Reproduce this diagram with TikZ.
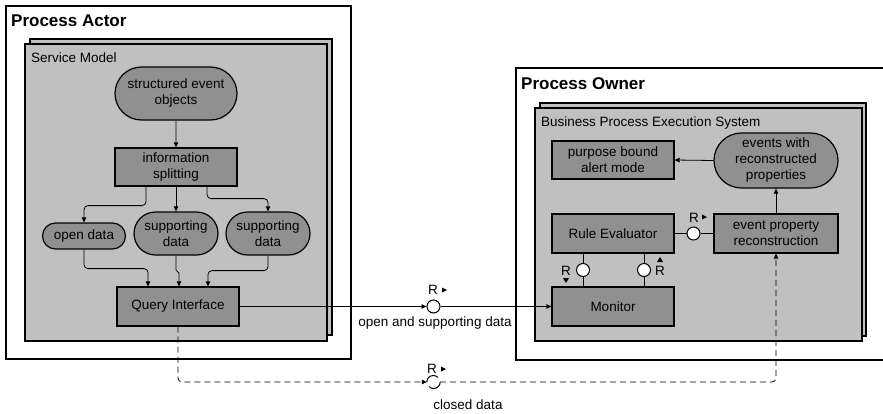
\documentclass[tikz,border=0pt]{standalone}
\usepackage{fontspec}
\setmainfont{Liberation Sans}
\usetikzlibrary{shapes.misc,arrows.meta}
\definecolor{contfill}{RGB}{192,192,192}
\definecolor{nodefill}{RGB}{144,144,144}
\begin{document}
\begin{tikzpicture}[x=1pt,y=-1pt,
  font=\fontsize{13.5}{16}\selectfont,
  outerbox/.style={draw=black,line width=1.4pt,fill=white},
  contbox/.style={draw=black,line width=1.4pt,fill=contfill},
  titletext/.style={anchor=base west,inner sep=0pt,font=\fontsize{17}{20}\selectfont\bfseries},
  conttext/.style={anchor=base west,inner sep=0pt},
  rectnode/.style={draw=black,line width=1.2pt,fill=nodefill,rectangle,align=center,inner sep=0pt},
  roundnode/.style={draw=black,line width=1.2pt,fill=nodefill,rounded rectangle,align=center,inner sep=0pt},
  conn/.style={line width=0.8pt,-{Triangle[length=5pt,width=4.5pt]},rounded corners=4pt},
  plainconn/.style={line width=0.8pt},
  ball/.style={circle,draw=black,line width=1pt,fill=white,minimum size=13pt,inner sep=0pt},
  rlabel/.style={anchor=base,inner sep=0pt},
  dashconn/.style={dash pattern=on 6pt off 4pt}
]
\useasboundingbox (0,0) rectangle (883,413);
\clip (0,0) rectangle (883,413);
\fill[white] (0,0) rectangle (883,413);

% ---------- Process Actor ----------
\draw[outerbox] (6,6) rectangle (351,359);
\node[titletext] (pa) at (11,26) {Process Actor};
\draw[contbox] (30,39) rectangle (332,335);
\draw[contbox] (25,44) rectangle (327,341);
\node[conttext] (sm) at (31,62) {Service Model};

\node[roundnode,minimum width=122pt,minimum height=53pt] (seo) at (176,93.5) {structured event\\objects};
\node[rectnode,minimum width=122pt,minimum height=38pt] (is) at (176,167) {information\\splitting};
\node[roundnode,minimum width=83pt,minimum height=26pt] (od) at (84,236) {open data};
\node[roundnode,minimum width=84pt,minimum height=43pt] (sd1) at (176,233.5) {supporting\\data};
\node[roundnode,minimum width=84pt,minimum height=43pt] (sd2) at (268,233.5) {supporting\\data};
\node[rectnode,minimum width=122pt,minimum height=39pt] (qi) at (178,306.5) {Query Interface};

\draw[conn] (seo) -- (is);
\draw[conn] ([xshift=-30pt]is.south) -- ++(0,19) -| (od.north);
\draw[conn] (is.south) -- (sd1.north);
\draw[conn] ([xshift=31pt]is.south) -- ++(0,12) -| (sd2.north);
\draw[conn] (od.south) -- ++(0,19) -| ([xshift=-30pt]qi.north);
\draw[conn,rounded corners=1.5pt] (sd1.south) -- ++(0,16) -| ([xshift=1pt]qi.north);
\draw[conn] (sd2.south) -- ++(0,15) -| ([xshift=30pt]qi.north);

% ---------- Process Owner ----------
\draw[outerbox] (516,68) rectangle (900,360);
\node[titletext] (po) at (521,89) {Process Owner};
\draw[contbox] (540,103) rectangle (866,336);
\draw[contbox] (535,108) rectangle (862,341);
\node[conttext] (bpes) at (541,126) {Business Process Execution System};

\node[rectnode,minimum width=122pt,minimum height=38pt] (pba) at (613,160) {purpose bound\\alert mode};
\node[roundnode,minimum width=124pt,minimum height=55pt] (ewrp) at (776,160.5) {events with\\reconstructed\\properties};
\node[rectnode,minimum width=122pt,minimum height=39pt] (re) at (613,233.5) {Rule Evaluator};
\node[rectnode,minimum width=124pt,minimum height=39pt] (epr) at (776,233.5) {event property\\reconstruction};
\node[rectnode,minimum width=122pt,minimum height=39pt] (mon) at (613,306.5) {Monitor};

\draw[conn] (ewrp.west) -- (pba.east);
\draw[conn] (epr.north) -- (ewrp.south);

% Rule Evaluator -- event property reconstruction
\node[ball] (b2) at (693.5,233.5) {};
\draw[plainconn] (re.east) -- (b2.west);
\draw[plainconn] (b2.east) -- (epr.west);
\node[rlabel] (r2) at (694,222) {R};
\fill (702,214.5) -- (707,217) -- (702,219.5) -- cycle;

% Rule Evaluator -- Monitor
\node[ball] (b3) at (583,270) {};
\node[ball] (b4) at (644,270) {};
\draw[plainconn] (b3 |- re.south) -- (b3.north);
\draw[plainconn] (b3.south) -- (b3 |- mon.north);
\draw[plainconn] (b4 |- re.south) -- (b4.north);
\draw[plainconn] (b4.south) -- (b4 |- mon.north);
\node[rlabel] (r3) at (566,275) {R};
\fill (563,278) -- (569,278) -- (566,283) -- cycle;
\node[rlabel] (r4) at (660,275) {R};
\fill (657,262) -- (663,262) -- (660,257) -- cycle;

% ---------- Query Interface -- Monitor ----------
\node[ball] (b1) at (433.5,306.5) {};
\draw[conn] (qi.east) -- (b1.west);
\draw[conn] (b1.east) -- (mon.west);
\node[rlabel] (r1) at (433,294) {R};
\fill (442,287.5) -- (447,290) -- (442,292.5) -- cycle;
\node[rlabel] (osd) at (435,326) {open and supporting data};

% ---------- closed data ----------
\node[circle,minimum size=13pt,inner sep=0pt] (sock) at (433.5,382) {};
\draw[line width=1pt] (sock.west) arc[start angle=180,end angle=45,radius=6.5pt];
\draw[line width=1pt] (sock.east) arc[start angle=0,end angle=-135,radius=6.5pt];
\draw[conn,dashconn] (qi.south) |- (sock.west);
\draw[conn,dashconn] (sock.east) -| (epr.south);
\node[rlabel] (r5) at (432,373) {R};
\fill (441,366.5) -- (446,369) -- (441,371.5) -- cycle;
\node[rlabel] (cd) at (468,409) {closed data};
\end{tikzpicture}
\end{document}
